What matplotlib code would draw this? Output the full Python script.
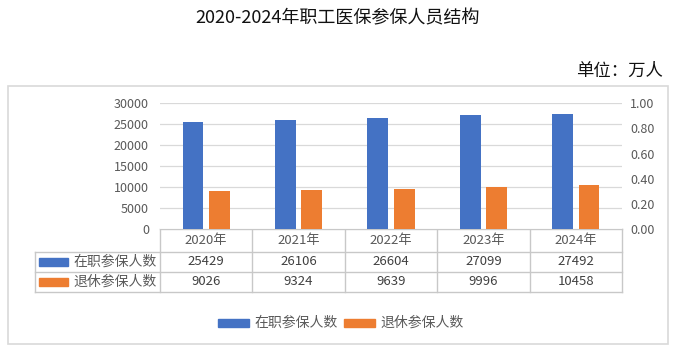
import numpy as np
import matplotlib
matplotlib.use("Agg")
import matplotlib.pyplot as plt
from matplotlib.patches import Rectangle

plt.rcParams['font.family'] = ['Noto Sans CJK SC', 'DejaVu Sans']

# 数据
years = ['2020年', '2021年', '2022年', '2023年', '2024年']
zaizhi = [25429, 26106, 26604, 27099, 27492]
tuixiu = [9026, 9324, 9639, 9996, 10458]
series_names = ['在职参保人数', '退休参保人数']
left_ticks = [0, 5000, 10000, 15000, 20000, 25000, 30000]
right_ticks = [0.0, 0.2, 0.4, 0.6, 0.8, 1.0]

c_blue = '#4472C4'
c_orange = '#ED7D31'
c_grid = '#D9D9D9'
c_text = '#595959'

W, H = 676, 354
fig = plt.figure(figsize=(W / 100, H / 100), dpi=100)

# 像素坐标的底层画布
bg = fig.add_axes([0, 0, 1, 1])
bg.set_xlim(0, W)
bg.set_ylim(H, 0)
bg.axis('off')

# 外框
bg.add_patch(Rectangle((8, 86), 660, 258, fill=False, ec=c_grid, lw=1.2))

fig.text(338 / W, 1 - 18 / H, '2020-2024年职工医保参保人员结构', ha='center', va='center',
         fontsize=13, color='#111111')
fig.text(663 / W, 1 - 71 / H, '单位：万人', ha='right', va='center', fontsize=12.5,
         color='#111111')

# 柱状图区域
x0, x1 = 160, 622
ytop, ybot = 103.3, 229
ax = fig.add_axes([x0 / W, 1 - ybot / H, (x1 - x0) / W, (ybot - ytop) / H])
x = np.arange(len(years))
bw = 0.225
ax.bar(x - 0.143, zaizhi, bw, color=c_blue, zorder=3)
ax.bar(x + 0.143, tuixiu, bw, color=c_orange, zorder=3)
ax.set_xlim(-0.5, len(years) - 0.5)
ax.set_ylim(0, 30000)
ax.set_yticks(left_ticks)
ax.set_yticklabels([str(v) for v in left_ticks])
ax.set_xticks([])
ax.tick_params(axis='y', length=0, labelsize=9, labelcolor=c_text, pad=8)
ax.grid(axis='y', color=c_grid, lw=0.9, zorder=0)
for s in ax.spines.values():
    s.set_visible(False)

ax2 = ax.twinx()
ax2.set_ylim(0, 1.0)
ax2.set_yticks(right_ticks)
ax2.set_yticklabels(['%.2f' % v for v in right_ticks])
ax2.tick_params(axis='y', length=0, labelsize=9, labelcolor=c_text, pad=6)
for s in ax2.spines.values():
    s.set_visible(False)

# 数据表
c_line = '#C8C8C8'
tl = 35
rows_y = [229, 251.7, 271.7, 292]
col_w = (x1 - x0) / len(years)
cols = [x0 + i * col_w for i in range(len(years) + 1)]

bg.plot([x0, x1], [rows_y[0], rows_y[0]], color=c_line, lw=1)
for yy in rows_y[1:]:
    bg.plot([tl, x1], [yy, yy], color=c_line, lw=1)
for cx in cols:
    bg.plot([cx, cx], [rows_y[0], rows_y[3]], color=c_line, lw=1)
bg.plot([tl, tl], [rows_y[1], rows_y[3]], color=c_line, lw=1)

for i, yr in enumerate(years):
    cx = (cols[i] + cols[i + 1]) / 2
    bg.text(cx, (rows_y[0] + rows_y[1]) / 2, yr, ha='center', va='center',
            fontsize=9.5, color=c_text)
    bg.text(cx, (rows_y[1] + rows_y[2]) / 2, str(zaizhi[i]), ha='center', va='center',
            fontsize=9.5, color='#404040')
    bg.text(cx, (rows_y[2] + rows_y[3]) / 2, str(tuixiu[i]), ha='center', va='center',
            fontsize=9.5, color='#404040')

for j, (name, col) in enumerate(zip(series_names, [c_blue, c_orange])):
    cy = (rows_y[1 + j] + rows_y[2 + j]) / 2
    bg.add_patch(Rectangle((39, cy - 4), 29, 8, color=col))
    bg.text(157, cy, name, ha='right', va='center', fontsize=10, color=c_text)

# 底部图例
leg_y = 323
for name, col, px in zip(series_names, [c_blue, c_orange], [218, 344]):
    bg.add_patch(Rectangle((px, leg_y - 4), 31, 8, color=col))
    bg.text(px + 36, leg_y, name, ha='left', va='center', fontsize=10, color=c_text)

fig.savefig('out.png', dpi=100)
